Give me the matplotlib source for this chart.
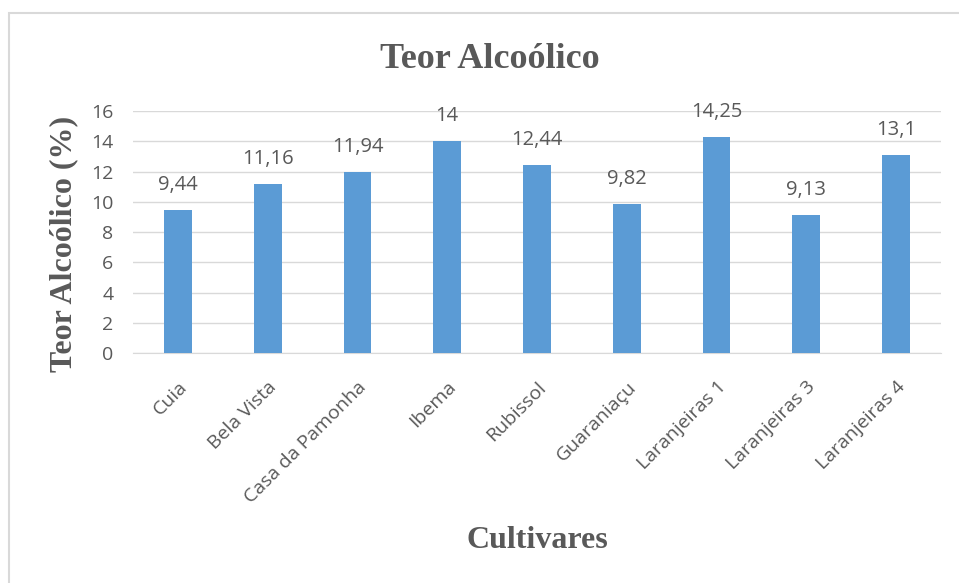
import matplotlib
matplotlib.use("Agg")
import matplotlib.pyplot as plt
from matplotlib.patches import Rectangle

# dados do gráfico
cultivares = ["Cuia", "Bela Vista", "Casa da Pamonha", "Ibema", "Rubissol",
              "Guaraniaçu", "Laranjeiras 1", "Laranjeiras 3", "Laranjeiras 4"]
teor = [9.44, 11.16, 11.94, 14, 12.44, 9.82, 14.25, 9.13, 13.1]
yticks = [0, 2, 4, 6, 8, 10, 12, 14, 16]

cor_barra = "#5B9BD5"
cor_texto = "#595959"
cor_grade = "#D9D9D9"
fonte_serif = "Liberation Serif"
fonte_sans = "Open Sans"

fig = plt.figure(figsize=(9.59, 5.83), dpi=100)
ax = fig.add_axes([0.1387, 0.3945, 0.8425, 0.4151])

# moldura externa (estilo Excel)
fig.patches.append(Rectangle((9 / 959, -0.1), 1.2, 1 - 13 / 583 + 0.1,
                             transform=fig.transFigure, fill=False,
                             edgecolor="#D9D9D9", linewidth=1.5))

x = range(len(cultivares))
bars = ax.bar(x, teor, width=0.31, color=cor_barra, zorder=3)

# rótulos de dados com vírgula decimal
for b, v in zip(bars, teor):
    txt = f"{v:g}".replace(".", ",")
    ax.annotate(txt, (b.get_x() + b.get_width() / 2, b.get_height()),
                xytext=(0, 11), textcoords="offset points",
                ha="center", va="bottom", fontsize=14.5,
                color=cor_texto, family=fonte_sans)

ax.set_xlim(-0.5, len(cultivares) - 0.5)
ax.set_ylim(0, 16)
ax.set_yticks(yticks)
ax.set_yticklabels([str(t) for t in yticks], fontsize=14,
                   color=cor_texto, family=fonte_sans)
ax.set_xticks(list(x))
ax.set_xticklabels(cultivares, rotation=45, ha="right",
                   rotation_mode="anchor", fontsize=14,
                   color=cor_texto, family=fonte_sans)
ax.tick_params(axis="both", length=0)
ax.tick_params(axis="y", pad=14)
ax.tick_params(axis="x", pad=18)

ax.grid(axis="y", color=cor_grade, linewidth=1, zorder=0)
for s in ["top", "right", "left"]:
    ax.spines[s].set_visible(False)
ax.spines["bottom"].set_color(cor_grade)

ax.set_ylabel("Teor Alcoólico (%)", fontsize=23, fontweight="bold",
              color=cor_texto, family=fonte_serif)
ax.yaxis.set_label_coords(-0.068, 0.45)
fig.text(537 / 959, 1 - 540 / 583, "Cultivares", fontsize=23,
         fontweight="bold", color=cor_texto, family=fonte_serif,
         ha="center", va="center")
fig.text(490 / 959, 1 - 60 / 583, "Teor Alcoólico", fontsize=26,
         fontweight="bold", color=cor_texto, family=fonte_serif,
         ha="center", va="center")

plt.savefig("out.png", dpi=100)
plt.close(fig)
